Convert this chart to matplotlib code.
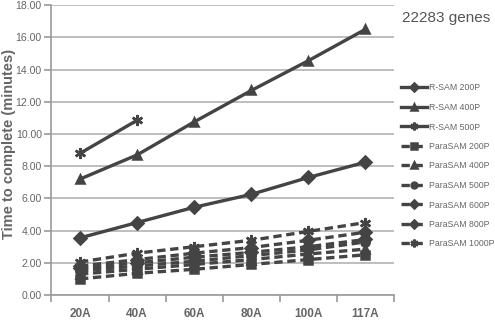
import matplotlib
matplotlib.use("Agg")
import matplotlib.pyplot as plt
import numpy as np

# datos
categorias = ["20A", "40A", "60A", "80A", "100A", "117A"]

rsam_200 = [3.55, 4.5, 5.45, 6.25, 7.3, 8.25]
rsam_400 = [7.2, 8.7, 10.75, 12.7, 14.55, 16.5]
rsam_500 = [8.8, 10.85]

para_200 = [1.0, 1.35, 1.6, 1.9, 2.2, 2.5]
para_400 = [1.3, 1.6, 1.9, 2.2, 2.55, 2.85]
para_500 = [1.5, 1.8, 2.1, 2.45, 2.8, 3.3]
para_600 = [1.65, 2.0, 2.35, 2.65, 3.0, 3.45]
para_800 = [1.8, 2.2, 2.6, 2.95, 3.4, 3.9]
para_1000 = [2.05, 2.6, 3.0, 3.4, 3.95, 4.5]

gris = "#444444"
gris_txt = "#666666"
plt.rcParams["font.family"] = ["Liberation Sans", "DejaVu Sans"]

fig = plt.figure(figsize=(4.95, 3.2), dpi=100)
ax = fig.add_axes([0.104, 0.078, 0.692, 0.906])

x = np.arange(len(categorias))
estrella = (6, 2, 0)

series = [
    ("R-SAM 200P", rsam_200, "D", "-"),
    ("R-SAM 400P", rsam_400, "^", "-"),
    ("R-SAM 500P", rsam_500, estrella, "-"),
    ("ParaSAM 200P", para_200, "s", "--"),
    ("ParaSAM 400P", para_400, "^", "--"),
    ("ParaSAM 500P", para_500, "o", "--"),
    ("ParaSAM 600P", para_600, "D", "--"),
    ("ParaSAM 800P", para_800, "D", "--"),
    ("ParaSAM 1000P", para_1000, estrella, "--"),
]

for nombre, valores, marca, estilo in series:
    ms = 6 if marca != estrella else 8
    ax.plot(x[:len(valores)], valores, linestyle=estilo, marker=marca, color=gris,
            lw=2.4, ms=ms, mew=1.8, label=nombre,
            dashes=(2.5, 1.4) if estilo == "--" else (None, None))

ax.set_xlim(-0.5, len(categorias) - 0.5)
ax.set_ylim(0, 18)
ax.set_yticks(np.arange(0, 18.1, 2))
ax.set_yticklabels(["%.2f" % v for v in np.arange(0, 18.1, 2)])
ax.yaxis.grid(True, color="#b3b3b3", lw=1.2)
ax.set_axisbelow(True)

ax.set_xticks(x)
ax.set_xticklabels(categorias, fontweight="bold")
ax.set_xticks(np.arange(-0.5, len(categorias)), minor=True)
ax.tick_params(axis="x", which="major", length=0, pad=9, labelsize=8.5, colors=gris_txt)
ax.tick_params(axis="x", which="minor", length=5, color="#999999", width=1.2)
ax.tick_params(axis="y", length=5, color="#999999", width=1.2, labelsize=7.6,
               colors=gris_txt, pad=2)

for lado in ["top", "right"]:
    ax.spines[lado].set_visible(False)
ax.spines["left"].set_color("#999999")
ax.spines["bottom"].set_color("#999999")
ax.spines["left"].set_linewidth(1.2)
ax.spines["bottom"].set_linewidth(1.2)

ax.set_ylabel("Time to complete (minutes)", fontsize=10.5, fontweight="bold", color=gris_txt)
ax.yaxis.set_label_coords(-0.104, 0.52)

fig.text(0.812, 0.93, "22283 genes", fontsize=11, color="#555555")

leg = fig.legend(loc="upper left", bbox_to_anchor=(0.803, 0.75), frameon=False,
                 fontsize=6.3, labelspacing=1.2, handlelength=3.0, handletextpad=0.15,
                 markerscale=0.7, borderaxespad=0)
for t in leg.get_texts():
    t.set_color(gris_txt)

fig.savefig("out.png", dpi=100)
